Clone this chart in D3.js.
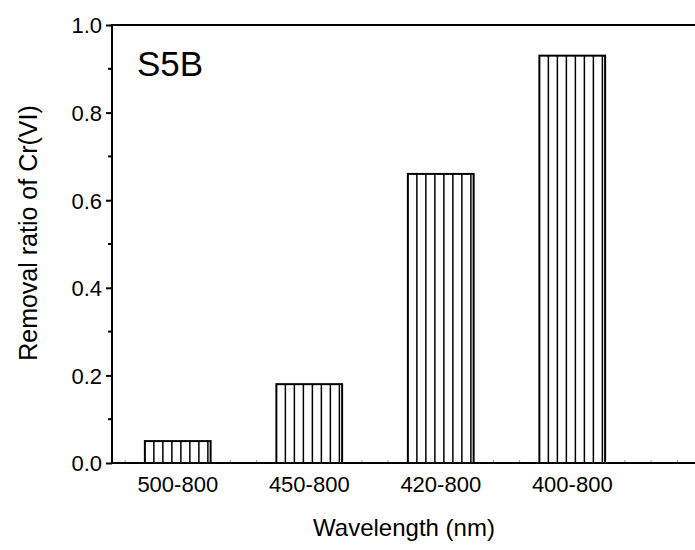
<!DOCTYPE html>
<html>
<head>
<meta charset="utf-8">
<script src="https://cdn.jsdelivr.net/npm/d3@7"></script>
<style>
  body { margin: 0; background: #fff; }
  svg text { font-family: "Liberation Sans", Arial, sans-serif; fill: #000; }
</style>
</head>
<body>
<svg id="chart"></svg>
<script>
'use strict';

var categories = ['500-800', '450-800', '420-800', '400-800'];
var removal = [0.05, 0.18, 0.66, 0.93];
var yTicks = [0, 0.2, 0.4, 0.6, 0.8, 1.0];
var yMinorTicks = [0.1, 0.3, 0.5, 0.7, 0.9];
var panelLabel = 'S5B';

var svgWidth = 695,
    svgHeight = 550,
    margin = { top: 25, right: 0, bottom: 87, left: 112 },
    width = svgWidth - margin.left - margin.right,
    height = svgHeight - margin.top - margin.bottom;

var svg = d3.select('#chart')
    .attr('width', svgWidth)
    .attr('height', svgHeight);

var g = svg.append('g')
    .attr('transform', 'translate(' + margin.left + ',' + margin.top + ')');

// categories sit at 1..4 on a numeric axis, like the original plot
var xScale = d3.scaleLinear().domain([0.5, 0.5 + width / 131.5]).range([0, width]);
var yScale = d3.scaleLinear().domain([0, 1]).range([height, 0]);
var barWidth = xScale(1.25) - xScale(0.75);

// faint minor ticks on the x axis
var xMinor = d3.range(0.6, 4.9, 0.2);
g.selectAll('.x-minor').data(xMinor).enter().append('line')
    .attr('x1', function(d) { return xScale(d); })
    .attr('x2', function(d) { return xScale(d); })
    .attr('y1', height).attr('y2', height - 3)
    .attr('stroke', '#999').attr('stroke-width', 1);

// bars
var bars = g.selectAll('.bar').data(removal).enter().append('g')
    .attr('transform', function(d, i) {
        return 'translate(' + (xScale(i + 1) - barWidth / 2) + ',' + yScale(d) + ')';
    });

bars.append('rect')
    .attr('width', barWidth)
    .attr('height', function(d) { return height - yScale(d); })
    .attr('fill', '#fff');

bars.each(function(d) {
    var h = height - yScale(d);
    d3.select(this).selectAll('line.hatch').data(d3.range(9, barWidth - 1, 9)).enter().append('line')
        .attr('x1', function(x) { return x; })
        .attr('x2', function(x) { return x; })
        .attr('y1', 0).attr('y2', h)
        .attr('stroke', '#000').attr('stroke-width', 1.5);
});

bars.append('rect')
    .attr('width', barWidth)
    .attr('height', function(d) { return height - yScale(d); })
    .attr('fill', 'none')
    .attr('stroke', '#000')
    .attr('stroke-width', 2);

// y axis
var yAxis = d3.axisLeft(yScale).tickValues(yTicks).tickFormat(d3.format('.1f'))
    .tickSize(6).tickPadding(4);
var yAx = g.append('g').call(yAxis);
yAx.select('.domain').remove();
yAx.selectAll('.tick line').attr('stroke-width', 2);
yAx.selectAll('.tick text').attr('font-size', 22).attr('dy', '0.36em')
    .style('font-family', '"Liberation Sans", Arial, sans-serif');

g.selectAll('.y-minor').data(yMinorTicks).enter().append('line')
    .attr('x1', -4).attr('x2', 0)
    .attr('y1', function(d) { return yScale(d); })
    .attr('y2', function(d) { return yScale(d); })
    .attr('stroke', '#000').attr('stroke-width', 2);

// frame lines: left, top, bottom
g.append('line').attr('x1', 0).attr('x2', 0).attr('y1', -1).attr('y2', height + 1)
    .attr('stroke', '#000').attr('stroke-width', 2);
g.append('line').attr('x1', 0).attr('x2', width).attr('y1', 0).attr('y2', 0)
    .attr('stroke', '#000').attr('stroke-width', 2);
g.append('line').attr('x1', 0).attr('x2', width).attr('y1', height).attr('y2', height)
    .attr('stroke', '#000').attr('stroke-width', 2);

// x tick labels
g.selectAll('.x-label').data(categories).enter().append('text')
    .attr('x', function(d, i) { return xScale(i + 1); })
    .attr('y', height + 29)
    .attr('text-anchor', 'middle')
    .attr('font-size', 22)
    .text(function(d) { return d; });

// titles
svg.append('text')
    .attr('x', 404)
    .attr('y', 536)
    .attr('text-anchor', 'middle')
    .attr('font-size', 24)
    .text('Wavelength (nm)');

svg.append('text')
    .attr('transform', 'translate(37,233) rotate(-90)')
    .attr('text-anchor', 'middle')
    .attr('font-size', 25)
    .text('Removal ratio of Cr(VI)');

svg.append('text')
    .attr('x', 137)
    .attr('y', 76)
    .attr('font-size', 35)
    .text(panelLabel);
</script>
</body>
</html>
